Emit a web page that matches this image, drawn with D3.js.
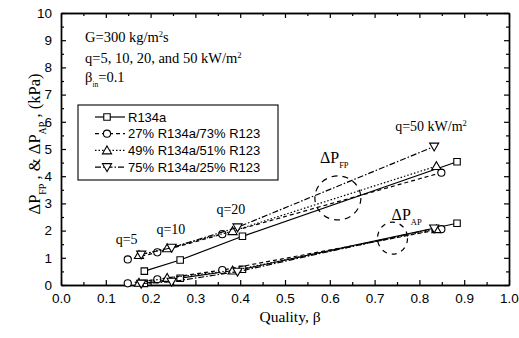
<!DOCTYPE html>
<html>
<head>
<meta charset="utf-8">
<script src="https://cdn.jsdelivr.net/npm/d3@7"></script>
<style>
body { margin: 0; background: #fff; }
svg { display: block; }
.tick text { font-family: "Liberation Sans", Arial, sans-serif; font-size: 13.5px; fill: #000; }
.serif { font-family: "Liberation Serif", "Times New Roman", serif; fill: #000; }
</style>
</head>
<body>
<svg id="chart" width="519" height="338"></svg>
<script>
// pressure drop vs quality

var seriesNames = ["R134a", "27% R134a/73% R123", "49% R134a/51% R123", "75% R134a/25% R123"];
var quality134 = [0.186, 0.266, 0.405, 0.884];
var quality27 = [0.149, 0.215, 0.360, 0.849];
var quality49 = [0.174, 0.237, 0.383, 0.838];
var quality75 = [0.179, 0.247, 0.394, 0.833];
var dpFP134 = [0.51, 0.92, 1.79, 4.53];
var dpFP27 = [0.94, 1.20, 1.87, 4.13];
var dpFP49 = [1.10, 1.35, 1.98, 4.37];
var dpFP75 = [1.12, 1.37, 2.12, 5.09];
var dpAP134 = [0.06, 0.25, 0.58, 2.27];
var dpAP27 = [0.06, 0.21, 0.55, 2.05];
var dpAP49 = [0.08, 0.26, 0.53, 2.05];
var dpAP75 = [0.05, 0.12, 0.49, 2.08];
var xTicks = [0, 0.1, 0.2, 0.3, 0.4, 0.5, 0.6, 0.7, 0.8, 0.9, 1.0];
var yTicks = [0, 1, 2, 3, 4, 5, 6, 7, 8, 9, 10];

var svg = d3.select("#chart"),
margin = { top: 13, right: 10, bottom: 53, left: 61 },
width = +svg.attr("width") - margin.left - margin.right,
height = +svg.attr("height") - margin.top - margin.bottom,
g = svg.append("g").attr("transform", "translate(" + margin.left + "," + margin.top + ")");

var x = d3.scaleLinear().domain([0, 1]).range([0, width]);
var y = d3.scaleLinear().domain([0, 10]).range([height, 0]);

var xMinor = d3.range(0.05, 1, 0.1);
var yMinor = d3.range(0.5, 10, 1);

// axes, ticks inward on all four sides
g.append("g").attr("transform", "translate(0," + height + ")")
  .call(d3.axisBottom(x).tickValues(xTicks).tickFormat(d3.format(".1f")).tickSizeInner(-5).tickSizeOuter(0).tickPadding(8));
g.append("g").attr("transform", "translate(0," + height + ")")
  .call(d3.axisBottom(x).tickValues(xMinor).tickFormat("").tickSizeInner(-3).tickSizeOuter(0));
g.append("g")
  .call(d3.axisTop(x).tickValues(xTicks).tickFormat("").tickSizeInner(-5).tickSizeOuter(0));
g.append("g")
  .call(d3.axisTop(x).tickValues(xMinor).tickFormat("").tickSizeInner(-3).tickSizeOuter(0));
g.append("g")
  .call(d3.axisLeft(y).tickValues(yTicks).tickFormat(d3.format("d")).tickSizeInner(-5).tickSizeOuter(0).tickPadding(9));
g.append("g")
  .call(d3.axisLeft(y).tickValues(yMinor).tickFormat("").tickSizeInner(-3).tickSizeOuter(0));
g.append("g").attr("transform", "translate(" + width + ",0)")
  .call(d3.axisRight(y).tickValues(yTicks).tickFormat("").tickSizeInner(-5).tickSizeOuter(0));
g.append("g").attr("transform", "translate(" + width + ",0)")
  .call(d3.axisRight(y).tickValues(yMinor).tickFormat("").tickSizeInner(-3).tickSizeOuter(0));
g.selectAll(".domain").attr("stroke", "#000").attr("stroke-width", 1.4);
g.selectAll(".tick line").attr("stroke", "#000").attr("stroke-width", 1.2);

// series
var series = [
  { name: seriesNames[0], q: quality134, fp: dpFP134, ap: dpAP134, sym: d3.symbolSquare, size: 42, dash: null, rot: 0 },
  { name: seriesNames[1], q: quality27, fp: dpFP27, ap: dpAP27, sym: d3.symbolCircle, size: 40, dash: "4,3", rot: 0 },
  { name: seriesNames[2], q: quality49, fp: dpFP49, ap: dpAP49, sym: d3.symbolTriangle, size: 36, dash: "1.5,2", rot: 0 },
  { name: seriesNames[3], q: quality75, fp: dpFP75, ap: dpAP75, sym: d3.symbolTriangle, size: 36, dash: "6,2,1.5,2", rot: 180 }
];

var line = d3.line().x(function (d) { return x(d[0]); }).y(function (d) { return y(d[1]); });

series.forEach(function (s) {
  ["fp", "ap"].forEach(function (k) {
    var pts = s.q.map(function (v, i) { return [v, s[k][i]]; });
    g.append("path")
      .attr("d", line(pts))
      .attr("fill", "none")
      .attr("stroke", "#000")
      .attr("stroke-width", 1.2)
      .attr("stroke-dasharray", s.dash);
    g.selectAll(null)
      .data(pts)
      .enter().append("path")
      .attr("d", d3.symbol().type(s.sym).size(s.size))
      .attr("transform", function (d) {
        return "translate(" + x(d[0]) + "," + (y(d[1]) + (s.sym === d3.symbolTriangle ? (s.rot ? -0.8 : 0.8) : 0)) + ") rotate(" + s.rot + ")";
      })
      .attr("fill", "#fff")
      .attr("stroke", "#000")
      .attr("stroke-width", 1.1);
  });
});

// legend
var lg = g.append("g").attr("transform", "translate(17,92)");
lg.append("rect").attr("width", 200).attr("height", 75)
  .attr("fill", "#fff").attr("stroke", "#000").attr("stroke-width", 1.1);
series.forEach(function (s, i) {
  var yy = 12 + i * 16.7;
  lg.append("line").attr("x1", 17).attr("x2", 47).attr("y1", yy).attr("y2", yy)
    .attr("stroke", "#000").attr("stroke-width", 1.2).attr("stroke-dasharray", s.dash);
  lg.append("path").attr("d", d3.symbol().type(s.sym).size(s.size))
    .attr("transform", "translate(29," + (yy + (s.sym === d3.symbolTriangle ? (s.rot ? -0.8 : 0.8) : 0)) + ") rotate(" + s.rot + ")")
    .attr("fill", "#fff").attr("stroke", "#000").attr("stroke-width", 1.1);
  lg.append("text").attr("x", 50).attr("y", yy + 4.5)
    .style("font-family", "'Liberation Sans', Arial, sans-serif").style("font-size", "13px")
    .text(s.name);
});

// condition text
function sup(t, a, b) { t.append("tspan").attr("baseline-shift", "super").style("font-size", "8.5px").text(a); if (b) t.append("tspan").text(b); }
var t1 = g.append("text").attr("class", "serif").attr("x", 24).attr("y", 29).style("font-size", "14.5px").text("G=300 kg/m");
sup(t1, "2", "s");
var t2 = g.append("text").attr("class", "serif").attr("x", 24).attr("y", 50).style("font-size", "14.5px").text("q=5, 10, 20, and 50 kW/m");
sup(t2, "2");
var t3 = g.append("text").attr("class", "serif").attr("x", 24).attr("y", 69).style("font-size", "14.5px").text("β");
t3.append("tspan").attr("baseline-shift", "sub").style("font-size", "7.5px").text("in");
t3.append("tspan").text("=0.1");

// q labels
function label(txt, xv, yv) {
  return g.append("text").attr("class", "serif").attr("x", x(xv)).attr("y", y(yv)).style("font-size", "14px").text(txt);
}
label("q=5", 0.122, 1.5);
label("q=10", 0.213, 1.88);
label("q=20", 0.347, 2.6);
var t4 = label("q=50 kW/m", 0.746, 5.67);
sup(t4, "2");

// dp labels and dashed rings
var fpT = g.append("text").attr("class", "serif").attr("x", x(0.578)).attr("y", y(4.5)).style("font-size", "16px").text("ΔP");
fpT.append("tspan").attr("baseline-shift", "sub").style("font-size", "8.5px").text("FP");
var apT = g.append("text").attr("class", "serif").attr("x", x(0.738)).attr("y", y(2.4)).style("font-size", "16px").text("ΔP");
apT.append("tspan").attr("baseline-shift", "sub").style("font-size", "8.5px").text("AP");
g.append("ellipse").attr("cx", x(0.618)).attr("cy", y(3.2)).attr("rx", 23).attr("ry", 22)
  .attr("fill", "none").attr("stroke", "#000").attr("stroke-width", 1.2).attr("stroke-dasharray", "6,5");
g.append("ellipse").attr("cx", x(0.74)).attr("cy", y(1.72)).attr("rx", 15).attr("ry", 16)
  .attr("fill", "none").attr("stroke", "#000").attr("stroke-width", 1.2).attr("stroke-dasharray", "5,5");

// axis titles
svg.append("text").attr("class", "serif").attr("x", margin.left + width / 2 + 5).attr("y", 322)
  .attr("text-anchor", "middle").style("font-size", "15.5px").text("Quality, β");
var yt = svg.append("text").attr("class", "serif")
  .attr("transform", "translate(40,144) rotate(-90)")
  .attr("text-anchor", "middle").style("font-size", "16.5px").text("ΔP");
yt.append("tspan").attr("baseline-shift", "sub").style("font-size", "10px").text("FP");
yt.append("tspan").text(" , & ΔP");
yt.append("tspan").attr("baseline-shift", "sub").style("font-size", "10px").text("AP");
yt.append("tspan").text(" , (kPa)");
</script>
</body>
</html>
